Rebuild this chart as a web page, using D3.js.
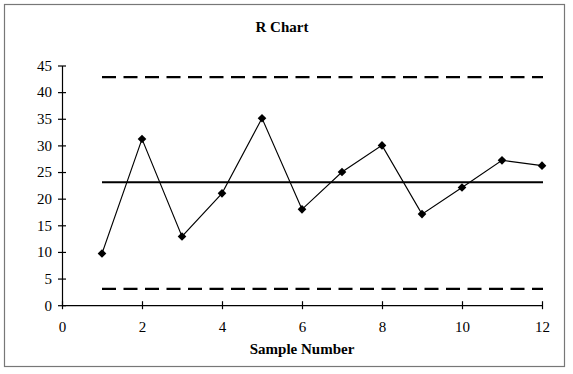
<!DOCTYPE html>
<html><head><meta charset="utf-8">
<script src="https://cdn.jsdelivr.net/npm/d3@7"></script>
<style>
html,body{margin:0;padding:0;background:#fff;}
svg text{font-family:"Liberation Serif","Times New Roman",serif !important;}
</style></head>
<body><svg id="c" width="573" height="374"></svg>
<script>
const samples = [1,2,3,4,5,6,7,8,9,10,11,12];
const ranges = [9.7,31.2,12.9,21.0,35.1,18.0,25.0,30.0,17.1,22.1,27.2,26.2];
const ucl = 42.8;
const centerLine = 23.1;
const lcl = 3.05;
const xTicks = [0,2,4,6,8,10,12];
const yTicks = [0,5,10,15,20,25,30,35,40,45];
const title = "R Chart";
const xLabel = "Sample Number";

const svg = d3.select("#c");
svg.append("rect").attr("x",4.5).attr("y",4.5).attr("width",560).attr("height",362)
  .attr("fill","#fff").attr("stroke","#777").attr("stroke-width",1.2);

const x = d3.scaleLinear().domain([0,12]).range([62,542]);
const y = d3.scaleLinear().domain([0,45]).range([305.2,65.5]);

svg.append("text").attr("x",282).attr("y",32).attr("text-anchor","middle")
  .attr("font-weight","bold").attr("font-size",15).text(title);

// y axis
const ya = svg.append("g").attr("transform","translate(62,0)")
  .call(d3.axisLeft(y).tickValues(yTicks).tickSize(4).tickPadding(6).tickSizeOuter(0));
ya.attr("font-family",null);
ya.select(".domain").attr("stroke","#000").attr("stroke-width",1.2);
ya.selectAll(".tick line").attr("x2",4).attr("x1",-4).attr("stroke-width",1.2);
ya.selectAll("text").attr("font-size",15).attr("fill","#000");

// x axis
const xa = svg.append("g").attr("transform","translate(0,305.2)")
  .call(d3.axisBottom(x).tickValues(xTicks).tickSize(4).tickPadding(12).tickSizeOuter(0));
xa.attr("font-family",null);
xa.select(".domain").attr("stroke","#000").attr("stroke-width",1.2);
xa.selectAll(".tick line").attr("y1",-4).attr("y2",4).attr("stroke-width",1.2);
xa.selectAll("text").attr("font-size",15).attr("fill","#000");

svg.append("text").attr("x",302).attr("y",354).attr("text-anchor","middle")
  .attr("font-weight","bold").attr("font-size",15).text(xLabel);

const x0 = samples[0], x1 = samples[samples.length-1];
// control limits
[ucl,lcl].forEach(v=>{
  svg.append("line").attr("x1",x(x0)).attr("x2",x(x1)+1).attr("y1",y(v)).attr("y2",y(v))
    .attr("stroke","#000").attr("stroke-width",2.2).attr("stroke-dasharray","14,7.5");
});
svg.append("line").attr("x1",x(x0)).attr("x2",x(x1)+1).attr("y1",y(centerLine)).attr("y2",y(centerLine))
  .attr("stroke","#000").attr("stroke-width",2);

// data line
svg.append("path").datum(samples.map((s,i)=>[s,ranges[i]]))
  .attr("fill","none").attr("stroke","#000").attr("stroke-width",1.1)
  .attr("d",d3.line().x(d=>x(d[0])).y(d=>y(d[1])));

svg.selectAll(".pt").data(samples.map((s,i)=>[s,ranges[i]])).enter().append("path")
  .attr("transform",d=>`translate(${x(d[0])},${y(d[1])})`)
  .attr("d",d3.symbol(d3.symbolDiamond2,48)).attr("fill","#000");
</script></body></html>
